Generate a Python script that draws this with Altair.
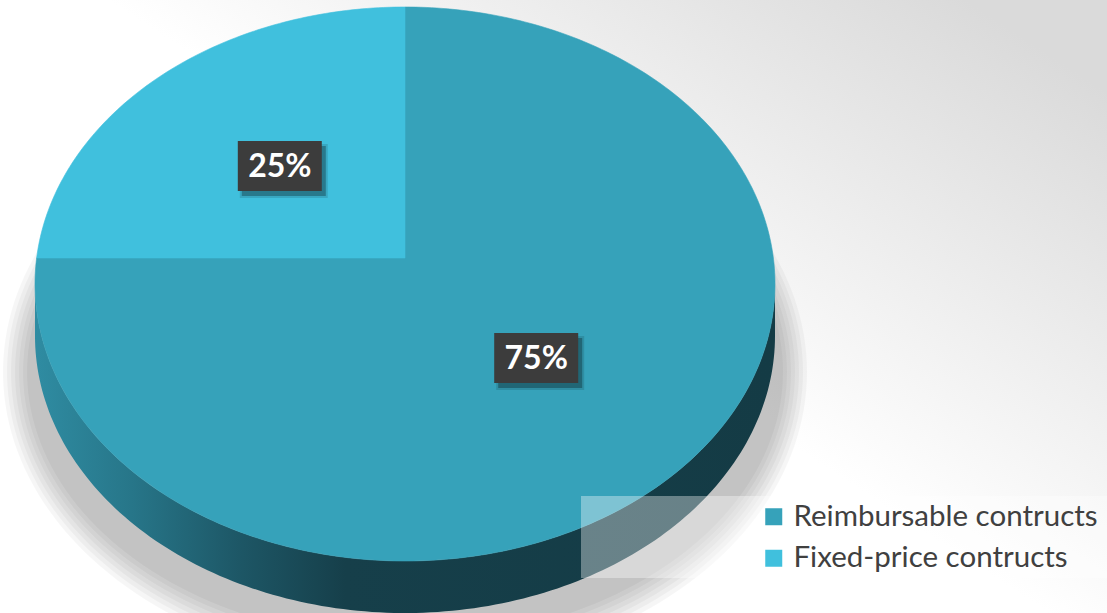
import numpy as np
import pandas as pd
import altair as alt

# ---------------- data ----------------
categories = ["Reimbursable contructs", "Fixed-price contructs"]
values = [75, 25]
label_texts = ["75%", "25%"]
colors = ["#36a2ba", "#40c0dd"]

# ---------------- layout constants (pixels) ----------------
W, H = 1107, 613
CX, CY, RX, RY = 405, 284, 370, 277   # top face ellipse
APEX_Y = 258                           # projected pie centre
DEPTH = 52                             # thickness of the 3D side
LABEL_R = 0.49

x_dom = [(0 - CX) / RX, (W - CX) / RX]
y_dom = [(CY - H) / RY, CY / RY]
xs = alt.Scale(domain=x_dom, nice=False, zero=False)
ys = alt.Scale(domain=y_dom, nice=False, zero=False)
X = lambda f: alt.X(f, type="quantitative", scale=xs, axis=None)
Y = lambda f: alt.Y(f, type="quantitative", scale=ys, axis=None)

a = (CY - APEX_Y) / RY
total = sum(values)

# ---------- slice polygons (top face) ----------
rows, lab_rows = [], []
start = 0
for cat, v, lt in zip(categories, values, label_texts):
    t0 = start / total * 2 * np.pi
    t1 = (start + v) / total * 2 * np.pi
    th = np.linspace(t0, t1, max(int(v * 4), 12))
    pts = [(0.0, a)]
    for t in th:
        s, c = np.sin(t), np.cos(t)
        r = -a * c + np.sqrt(a * a * c * c - a * a + 1)
        pts.append((r * s, a + r * c))
    pts.append((0.0, a))
    for i, (u, vv) in enumerate(pts):
        rows.append(dict(cat=cat, i=i, u=u, v=vv))
    tm = (t0 + t1) / 2
    lab_rows.append(dict(cat=cat, label=lt,
                         u=LABEL_R * np.sin(tm), v=a + LABEL_R * np.cos(tm)))
    start += v
slices = pd.DataFrame(rows)
labels = pd.DataFrame(lab_rows)

# ---------- 3D side polygon ----------
d = DEPTH / RY
phi = np.linspace(np.pi, 2 * np.pi, 160)
side_u = list(np.cos(phi)) + list(np.cos(phi[::-1]))
side_v = list(np.sin(phi)) + list(np.sin(phi[::-1]) - d)
side = pd.DataFrame(dict(i=range(len(side_u)), u=side_u, v=side_v))

# ---------- soft shadow ellipses ----------
sh_rows = []
ang = np.linspace(0, 2 * np.pi, 200)
SH_CY = 372
for k, (rx, ry) in enumerate([(378, 268), (382, 273), (386, 278), (390, 283), (394, 288), (398, 293), (402, 298)]):
    for i, t in enumerate(ang):
        sh_rows.append(dict(k=k, i=i,
                            u=(rx * np.cos(t)) / RX,
                            v=(CY - SH_CY + ry * np.sin(t)) / RY))
shadow = pd.DataFrame(sh_rows)

one = pd.DataFrame({"k": [0]})

# ---------------- layers ----------------
bg = alt.Chart(one).mark_rect(
    fill=alt.Gradient(
        gradient="linear",
        stops=[alt.GradientStop(color="#ffffff", offset=0),
               alt.GradientStop(color="#ffffff", offset=0.55),
               alt.GradientStop(color="#dadada", offset=1)],
        x1=0, y1=1, x2=1, y2=0.15),
).encode(x=alt.value(0), x2=alt.value(W), y=alt.value(0), y2=alt.value(H))

shadow_layer = alt.Chart(shadow).mark_line(
    filled=True, fill="#000000", fillOpacity=0.035, strokeWidth=0
).encode(x=X("u"), y=Y("v"), order="i:Q", detail="k:N")

side_layer = alt.Chart(side).mark_line(
    filled=True, strokeWidth=0,
    fill=alt.Gradient(
        gradient="linear",
        stops=[alt.GradientStop(color="#2f8ca2", offset=0),
               alt.GradientStop(color="#277689", offset=0.13),
               alt.GradientStop(color="#1d5665", offset=0.28),
               alt.GradientStop(color="#163f4a", offset=0.42),
               alt.GradientStop(color="#143b45", offset=1)],
        x1=0, y1=0, x2=1, y2=0),
).encode(x=X("u"), y=Y("v"), order="i:Q")

top_layer = alt.Chart(slices).mark_line(filled=True, strokeWidth=0.6).encode(
    x=X("u"), y=Y("v"), order="i:Q",
    color=alt.Color("cat:N",
                    scale=alt.Scale(domain=categories, range=colors),
                    legend=alt.Legend(orient="none", legendX=759, legendY=502,
                                      title=None, symbolType="square",
                                      symbolSize=289, symbolStrokeWidth=0,
                                      symbolOpacity=1, labelFontSize=29.5,
                                      labelFont="Lato", labelColor="#404040",
                                      labelOffset=5, rowPadding=10.5, padding=0,
                                      labelLimit=400)),
    stroke=alt.Stroke("cat:N", scale=alt.Scale(domain=categories, range=colors), legend=None),
)

OX, OY = 3, 4
lab_shadow2 = alt.Chart(labels).mark_rect(
    width=88, height=54, color="#000000", opacity=0.12, xOffset=OX + 4, yOffset=OY + 5
).encode(x=X("u"), y=Y("v"))
lab_shadow = alt.Chart(labels).mark_rect(
    width=84, height=50, color="#000000", opacity=0.28, xOffset=OX + 4, yOffset=OY + 5
).encode(x=X("u"), y=Y("v"))

lab_box = alt.Chart(labels).mark_rect(
    width=84, height=50, color="#3c3c3c", xOffset=OX, yOffset=OY
).encode(x=X("u"), y=Y("v"))

lab_text = alt.Chart(labels).mark_text(
    font="Lato", fontSize=32, fontWeight="bold", color="#ffffff",
    align="center", baseline="middle", dx=OX, dy=OY + 1
).encode(x=X("u"), y=Y("v"), text="label:N")

legend_box = alt.Chart(one).mark_rect(color="#ffffff", opacity=0.36).encode(
    x=alt.value(581), x2=alt.value(W), y=alt.value(496), y2=alt.value(578))

chart = alt.layer(
    bg, shadow_layer, side_layer, top_layer,
    lab_shadow2, lab_shadow, lab_box, lab_text, legend_box
).properties(
    width=W, height=H, padding=0, autosize="none", background="#ffffff"
).configure_view(stroke=None)

chart.save("out.html", embed_options={"renderer": "svg", "actions": False})
